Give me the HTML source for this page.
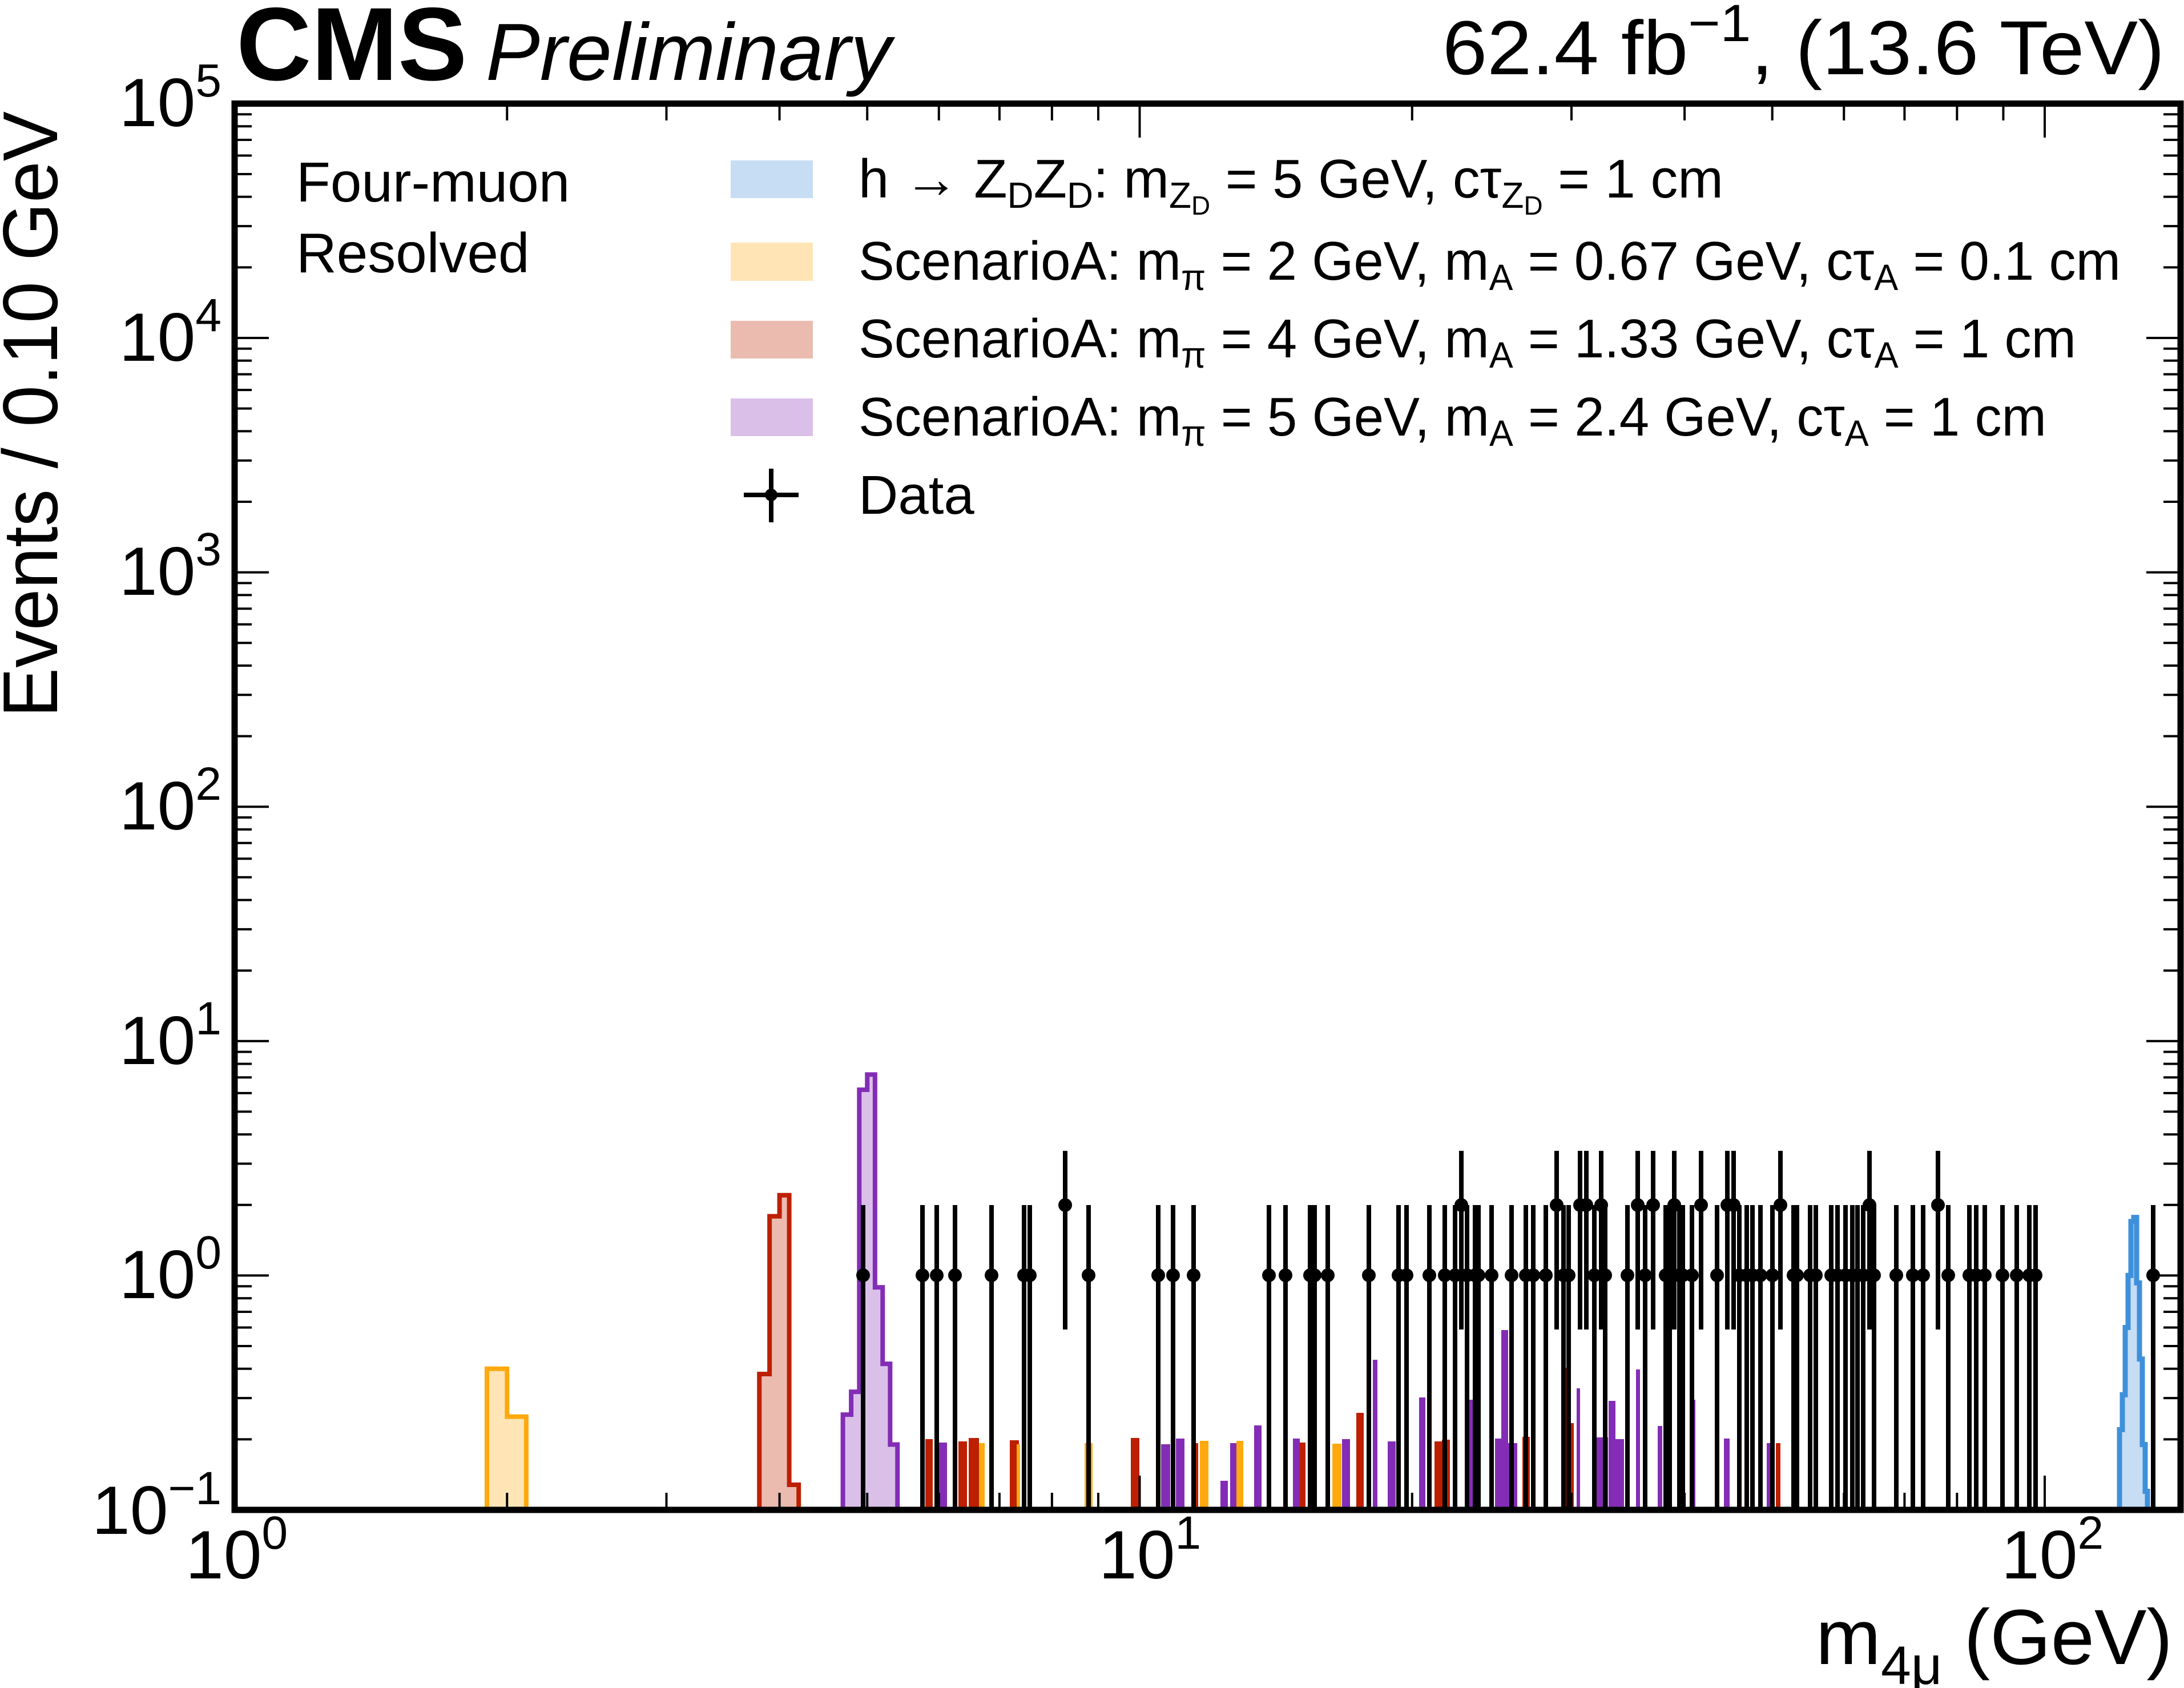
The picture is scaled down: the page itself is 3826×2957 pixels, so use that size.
<!DOCTYPE html>
<html><head><meta charset="utf-8"><style>
html,body{margin:0;padding:0;background:#fff;}
svg{display:block;}
text{font-family:"Liberation Sans",sans-serif;fill:#000;}
</style></head><body>
<svg id="s" width="3826" height="2957" viewBox="0 0 3826 2957" xmlns="http://www.w3.org/2000/svg">
<rect width="3826" height="2957" fill="#fff"/>
<g id="hist"></g>
<g id="data"></g>
<g id="ticks" stroke="#000" stroke-width="4"></g>
<rect x="411" y="181.5" width="3409" height="2463.5" fill="none" stroke="#000" stroke-width="11"/>

<!-- y tick labels -->
<g font-size="120">
<text x="388" y="221" text-anchor="end">10<tspan font-size="82" dy="-52">5</tspan></text>
<text x="388" y="632" text-anchor="end">10<tspan font-size="82" dy="-52">4</tspan></text>
<text x="388" y="1042" text-anchor="end">10<tspan font-size="82" dy="-52">3</tspan></text>
<text x="388" y="1453" text-anchor="end">10<tspan font-size="82" dy="-52">2</tspan></text>
<text x="388" y="1864" text-anchor="end">10<tspan font-size="82" dy="-52">1</tspan></text>
<text x="388" y="2274" text-anchor="end">10<tspan font-size="82" dy="-52">0</tspan></text>
<text x="388" y="2687" text-anchor="end">10<tspan font-size="82" dy="-52">−1</tspan></text>
</g>
<!-- x tick labels -->
<g font-size="120">
<text x="325" y="2765">10<tspan font-size="82" dy="-52">0</tspan></text>
<text x="1925" y="2765">10<tspan font-size="82" dy="-52">1</tspan></text>
<text x="3506" y="2765">10<tspan font-size="82" dy="-52">2</tspan></text>
</g>
<!-- axis titles -->
<text font-size="136" transform="translate(100,1257) rotate(-90)" textLength="1062" lengthAdjust="spacingAndGlyphs">Events / 0.10 GeV</text>
<text x="3806" y="2915" font-size="137" text-anchor="end">m<tspan font-size="95" dy="35">4μ</tspan><tspan dy="-35"> (GeV)</tspan></text>

<!-- header -->
<text x="414" y="140" font-size="182" font-weight="bold">CMS</text>
<text x="851" y="140" font-size="142" font-style="italic">Preliminary</text>
<text x="2527" y="130" font-size="134" textLength="1265" lengthAdjust="spacingAndGlyphs">62.4 fb<tspan font-size="92" dy="-58">−1</tspan><tspan dy="58">,  (13.6 TeV)</tspan></text>

<!-- category -->
<text x="519" y="353" font-size="98">Four-muon</text>
<text x="519" y="477" font-size="98">Resolved</text>

<!-- legend -->
<rect x="1280" y="281" width="144" height="66" fill="#c6ddf4"/>
<rect x="1280" y="425" width="144" height="67" fill="#ffe5b6"/>
<rect x="1280" y="562" width="144" height="66" fill="#ebbbb0"/>
<rect x="1280" y="698" width="144" height="66" fill="#dac0e9"/>
<line x1="1351" y1="821" x2="1351" y2="915" stroke="#000" stroke-width="8"/>
<line x1="1303" y1="867" x2="1399" y2="867" stroke="#000" stroke-width="8"/>
<circle cx="1351" cy="867" r="11" fill="#000"/>
<g font-size="96">
<text x="1504" y="346" textLength="1515" lengthAdjust="spacingAndGlyphs">h → Z<tspan font-size="64" dy="18">D</tspan><tspan dy="-18">Z</tspan><tspan font-size="64" dy="18">D</tspan><tspan dy="-18">: m</tspan><tspan font-size="64" dy="18">Z</tspan><tspan font-size="46" dy="12">D</tspan><tspan dy="-30"> = 5 GeV, cτ</tspan><tspan font-size="64" dy="18">Z</tspan><tspan font-size="46" dy="12">D</tspan><tspan dy="-30"> =  1 cm</tspan></text>
<text x="1504" y="490" textLength="2211" lengthAdjust="spacingAndGlyphs">ScenarioA: m<tspan font-size="64" dy="18">π</tspan><tspan dy="-18"> = 2 GeV, m</tspan><tspan font-size="64" dy="18">A</tspan><tspan dy="-18"> = 0.67 GeV, cτ</tspan><tspan font-size="64" dy="18">A</tspan><tspan dy="-18"> =  0.1 cm</tspan></text>
<text x="1504" y="626" textLength="2133" lengthAdjust="spacingAndGlyphs">ScenarioA: m<tspan font-size="64" dy="18">π</tspan><tspan dy="-18"> = 4 GeV, m</tspan><tspan font-size="64" dy="18">A</tspan><tspan dy="-18"> = 1.33 GeV, cτ</tspan><tspan font-size="64" dy="18">A</tspan><tspan dy="-18"> =  1 cm</tspan></text>
<text x="1504" y="763" textLength="2081" lengthAdjust="spacingAndGlyphs">ScenarioA: m<tspan font-size="64" dy="18">π</tspan><tspan dy="-18"> = 5 GeV, m</tspan><tspan font-size="64" dy="18">A</tspan><tspan dy="-18"> = 2.4 GeV, cτ</tspan><tspan font-size="64" dy="18">A</tspan><tspan dy="-18"> =  1 cm</tspan></text>
<text x="1504" y="900">Data</text>
</g>
</svg>
<script>
(function(){
var NS="http://www.w3.org/2000/svg";
function el(p,n,a){var e=document.createElementNS(NS,n);for(var k in a)e.setAttribute(k,a[k]);p.appendChild(e);return e;}
var X0=411,XD=1585.5,YB=2645,YD=410.6;
function xp(m){return X0+XD*Math.log10(m);}
function yp(v){return YB-YD*(Math.log10(v)+1);}
var T=document.getElementById('ticks');
for(var k=-1;k<=5;k++){
  var y=yp(Math.pow(10,k));
  if(k>-1&&k<5){el(T,'line',{x1:411,y1:y,x2:471,y2:y});el(T,'line',{x1:3820,y1:y,x2:3760,y2:y});}
  if(k<5)for(var j=2;j<=9;j++){var yy=yp(j*Math.pow(10,k));
    el(T,'line',{x1:411,y1:yy,x2:441,y2:yy});el(T,'line',{x1:3820,y1:yy,x2:3790,y2:yy});}
}
[10,100].forEach(function(m){var x=xp(m);el(T,'line',{x1:x,y1:2645,x2:x,y2:2585});el(T,'line',{x1:x,y1:181,x2:x,y2:241});});
[1,10].forEach(function(d){for(var j=2;j<=9;j++){var x=xp(j*d);el(T,'line',{x1:x,y1:2645,x2:x,y2:2615});el(T,'line',{x1:x,y1:181,x2:x,y2:211});}});
var H=document.getElementById('hist');
function step(edges,vals,fill,stroke,sw){
  var d='M'+edges[0]+' '+YB;
  for(var i=0;i<vals.length;i++){var y=Math.min(YB,yp(vals[i]));d+=' L'+edges[i]+' '+y+' L'+edges[i+1]+' '+y;}
  d+=' L'+edges[edges.length-1]+' '+YB;
  el(H,'path',{d:d,fill:fill,stroke:stroke,'stroke-width':sw,'stroke-linejoin':'miter'});
}
function ed(a,b,n){var r=[];for(var i=0;i<=n;i++)r.push(xp(a+(b-a)*i/n));return r;}
var bars=[[1621,13,2521,'#bd1f01'],[1644,15,2527,'#832db6'],[1679,15,2525,'#bd1f01'],[1697,18,2519,'#bd1f01'],[1715,10,2528,'#ffa90e'],[1769,16,2523,'#bd1f01'],[1781,6,2530,'#ffa90e'],[1900,14,2528,'#ffa90e'],[1981,15,2519,'#bd1f01'],[2034,16,2530,'#832db6'],[2060,15,2520,'#832db6'],[2087,12,2528,'#bd1f01'],[2102,15,2524,'#ffa90e'],[2138,13,2594,'#832db6'],[2155,16,2528,'#832db6'],[2166,12,2524,'#ffa90e'],[2197,13,2497,'#832db6'],[2265,12,2520,'#832db6'],[2277,10,2527,'#bd1f01'],[2334,16,2529,'#ffa90e'],[2351,14,2521,'#832db6'],[2376,13,2475,'#bd1f01'],[2405,8,2382,'#832db6'],[2431,14,2525,'#832db6'],[2486,11,2448,'#832db6'],[2513,13,2525,'#bd1f01'],[2526,14,2522,'#bd1f01'],[2568,14,2452,'#832db6'],[2582,10,2521,'#bd1f01'],[2619,12,2520,'#832db6'],[2630,12,2330,'#832db6'],[2642,16,2528,'#832db6'],[2667,13,2517,'#bd1f01'],[2737,8,2396,'#bd1f01'],[2745,12,2493,'#bd1f01'],[2762,6,2432,'#832db6'],[2797,20,2518,'#832db6'],[2818,12,2454,'#832db6'],[2830,15,2521,'#832db6'],[2866,7,2399,'#832db6'],[2904,8,2498,'#832db6'],[2960,10,2452,'#832db6'],[3020,10,2520,'#832db6'],[3095,8,2528,'#832db6'],[3111,8,2528,'#bd1f01']];
bars.forEach(function(b){el(H,'rect',{x:b[0],y:b[2],width:b[1],height:YB-b[2],fill:b[3]});});
step(ed(1.9,2.1,2),[0.4,0.25],'#ffe5b6','#ffa90e',8);
step(ed(3.8,4.2,4),[0.38,1.79,2.2,0.128],'#ebbbb0','#bd1f01',8);
step(ed(4.7,5.4,7),[0.255,0.319,6.2,7.2,0.89,0.42,0.19],'#dac0e9','#832db6',8);
step([3713,3718,3723,3728,3733,3738,3743,3748,3753,3758,3762],[0.22,0.31,0.6,1.0,1.7,1.77,0.93,0.44,0.19,0.12],'#c6ddf4','#3f90da',9);
var D=document.getElementById('data');
var pts=[[1512,1],[1616,1],[1641,1],[1673,1],[1737,1],[1794,1],[1804,1],[1866,2],[1907,1],[2029,1],[2055,1],[2091,1],
[2223,1],[2252,1],[2295,1],[2303,1],[2326,1],[2398,1],[2450,1],[2464,1],[2504,1],[2531,1],[2549,1],[2560,2],[2570,1],[2584,1],[2590,1],[2613,1],[2648,1],[2673,1],[2686,1],[2708,1],[2727,2],[2739,1],[2748,1],[2768,2],[2779,2],[2793,1],[2805,2],[2812,1],[2851,1],[2869,2],[2882,1],[2896,2],[2918,1],[2925,1],[2933,2],[2942,1],[2948,1],[2964,1],[2980,2],[3008,1],[3026,2],[3037,2],[3047,1],[3060,1],[3070,1],[3084,1],[3105,1],[3119,2],[3142,1],[3148,1],[3171,1],[3181,1],[3208,1],[3219,1],[3233,1],[3245,1],[3254,1],[3264,1],[3275,2],[3283,1],[3322,1],[3351,1],[3369,1],[3395,2],[3413,1],[3450,1],[3462,1],[3477,1],[3508,1],[3533,1],[3555,1],[3566,1],[3772,1]];
pts.forEach(function(p){
  var x=p[0],y1,y2,yc;
  if(p[1]==1){yc=2234;y1=2111;y2=2645;}else{yc=2111;y1=2016;y2=2329;}
  el(D,'line',{x1:x,y1:y1,x2:x,y2:y2,stroke:'#000','stroke-width':8});
  el(D,'circle',{cx:x,cy:yc,r:12,fill:'#000'});
});
})();
</script>
</body></html>
